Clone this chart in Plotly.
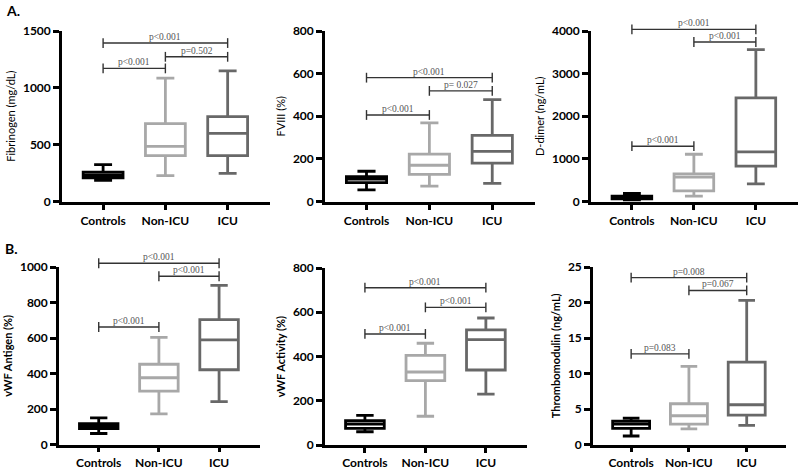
import plotly.graph_objects as go

categories = ["Controls", "Non-ICU", "ICU"]
group_colors = ["#000000", "#a8a8a8", "#686868"]
# brackets: Controls vs Non-ICU, Non-ICU vs ICU, Controls vs ICU
pairs = [(0, 1), (1, 2), (0, 2)]

# each group: [lower whisker, Q1, median, Q3, upper whisker]
fib_stats = [[185, 209, 232, 258, 324], [227, 403, 485, 685, 1085], [247, 403, 600, 747, 1150]]
fib_p = ["p<0.001", "p=0.502", "p<0.001"]
fib_p_y = [1171, 1273, 1394]

fviii_stats = [[55, 89, 105, 117, 142], [72, 127, 170, 222, 369], [85, 180, 235, 310, 478]]
fviii_p = ["p<0.001", "p= 0.027", "p<0.001"]
fviii_p_y = [406, 519, 581]

ddimer_stats = [[30, 60, 100, 125, 190], [125, 250, 570, 648, 1109], [414, 828, 1164, 2430, 3562]]
ddimer_p = ["p<0.001", "p<0.001", "p<0.001"]
ddimer_p_y = [1297, 3742, 4039]

vwfag_stats = [[62, 90, 103, 118, 150], [172, 301, 376, 452, 604], [241, 421, 589, 703, 897]]
vwfag_p = ["p<0.001", "p<0.001", "p<0.001"]
vwfag_p_y = [662, 948, 1021]

vwfact_stats = [[60, 75, 95, 110, 134], [130, 291, 330, 405, 460], [230, 339, 476, 520, 574]]
vwfact_p = ["p<0.001", "p<0.001", "p<0.001"]
vwfact_p_y = [502, 622, 711]

tm_stats = [[1.2, 2.26, 2.87, 3.3, 3.72], [2.21, 2.87, 4.05, 5.74, 11.0], [2.68, 4.14, 5.6, 11.6, 20.3]]
tm_p = ["p=0.083", "p=0.067", "p=0.008"]
tm_p_y = [12.76, 21.7, 23.5]

W, H = 800, 469
FONT = "Lato"

# title, stats, p labels, p heights, y max, dtick, bold title, x pixels, y pixels
panels = [
    ("Fibrinogen (mg/dL)", fib_stats, fib_p, fib_p_y, 1500, 500, False, (62, 270), (31, 201.5)),
    ("FVIII (%)", fviii_stats, fviii_p, fviii_p_y, 800, 200, False, (325, 535), (31, 201.5)),
    ("D-dimer (ng/mL)", ddimer_stats, ddimer_p, ddimer_p_y, 4000, 1000, False, (591, 798), (31, 201.5)),
    ("vWF Antigen (%)", vwfag_stats, vwfag_p, vwfag_p_y, 1000, 200, True, (59, 260), (267, 444.5)),
    ("vWF Activity (%)", vwfact_stats, vwfact_p, vwfact_p_y, 800, 200, True, (325, 527), (268, 445)),
    ("Thrombomodulin (ng/mL)", tm_stats, tm_p, tm_p_y, 25, 5, True, (593, 786), (267, 444.5)),
]

fig = go.Figure()
layout = {}
annotations = []
EXTRA = 18  # px of room above each panel for the brackets

for k, (title, stats, plabels, pheights, ymax, dtick, bold, xpx, ypx) in enumerate(panels, start=1):
    xa, ya, yb = "x%d" % k, "y%d" % k, "y%d" % (k + 6)
    xdom = [xpx[0] / W, xpx[1] / W]
    ydom = [1 - ypx[1] / H, 1 - ypx[0] / H]
    hpx = ypx[1] - ypx[0]

    for g, cat in enumerate(categories):
        s = stats[g]
        fig.add_trace(go.Box(
            x=[cat], lowerfence=[s[0]], q1=[s[1]], median=[s[2]], q3=[s[3]], upperfence=[s[4]],
            orientation="v",
            width=0.64, whiskerwidth=0.45, fillcolor="white",
            line=dict(color=group_colors[g], width=2.8),
            boxpoints=False, hoverinfo="skip", showlegend=False,
            xaxis=xa, yaxis=ya))

    for (i, j), lab, h in zip(pairs, plabels, pheights):
        fig.add_trace(go.Scatter(
            x=[categories[i], categories[j]], y=[h, h], mode="lines+markers",
            line=dict(color="#333333", width=1.4),
            marker=dict(symbol="line-ns", size=7, line=dict(color="#333333", width=1.4)),
            cliponaxis=False, hoverinfo="skip", showlegend=False,
            xaxis=xa, yaxis=yb))
        # referenced to the taller twin axis so labels above the top tick still show
        annotations.append(dict(
            x=(i + j) / 2, y=h, xref=xa, yref=yb, text=lab, showarrow=False,
            yanchor="bottom", yshift=-1,
            font=dict(family="Liberation Serif", size=9.5, color="#555555")))

    layout["xaxis%d" % k] = dict(
        domain=xdom, anchor=ya, type="category", range=[-0.66, 2.68],
        showline=True, linecolor="black", linewidth=2.6,
        ticks="outside", ticklen=6 if k <= 3 else 5, tickwidth=2.6, tickcolor="black",
        showgrid=False, zeroline=False, automargin=False,
        tickfont=dict(family=FONT, size=12, color="black", weight="bold"))
    layout["yaxis%d" % k] = dict(
        domain=ydom, anchor=xa, range=[0, ymax], tick0=0, dtick=dtick,
        showline=True, linecolor="black", linewidth=2.6,
        ticks="outside", ticklen=6, tickwidth=2.6, tickcolor="black",
        showgrid=False, zeroline=False, automargin=False,
        tickfont=dict(family=FONT, size=12, color="black", weight="bold"),
        title=dict(text=title, standoff=6,
                   font=dict(family=FONT, size=11, color="black",
                             weight="bold" if bold else "normal")))
    # invisible twin axis with the same scale, taller so brackets above the top tick are not clipped
    layout["yaxis%d" % (k + 6)] = dict(
        domain=[ydom[0], ydom[1] + EXTRA / H], anchor=xa,
        range=[0, ymax * (hpx + EXTRA) / hpx], visible=False, automargin=False)

annotations.append(dict(x=4 / W, y=1, xref="paper", yref="paper", text="A.",
                        showarrow=False, xanchor="left", yanchor="top",
                        font=dict(family=FONT, size=14, color="black", weight="bold")))
annotations.append(dict(x=3 / W, y=1 - 238 / H, xref="paper", yref="paper", text="B.",
                        showarrow=False, xanchor="left", yanchor="top",
                        font=dict(family=FONT, size=14, color="black", weight="bold")))

fig.update_layout(
    template="none",
    width=W, height=H, margin=dict(l=0, r=0, t=0, b=0),
    paper_bgcolor="white", plot_bgcolor="rgba(0,0,0,0)",
    annotations=annotations, **layout)

# drop the default page margin so the 800x469 figure fills the window
fig.write_html("out.html", config={"displayModeBar": False},
               post_script="document.body.style.margin = '0';")
